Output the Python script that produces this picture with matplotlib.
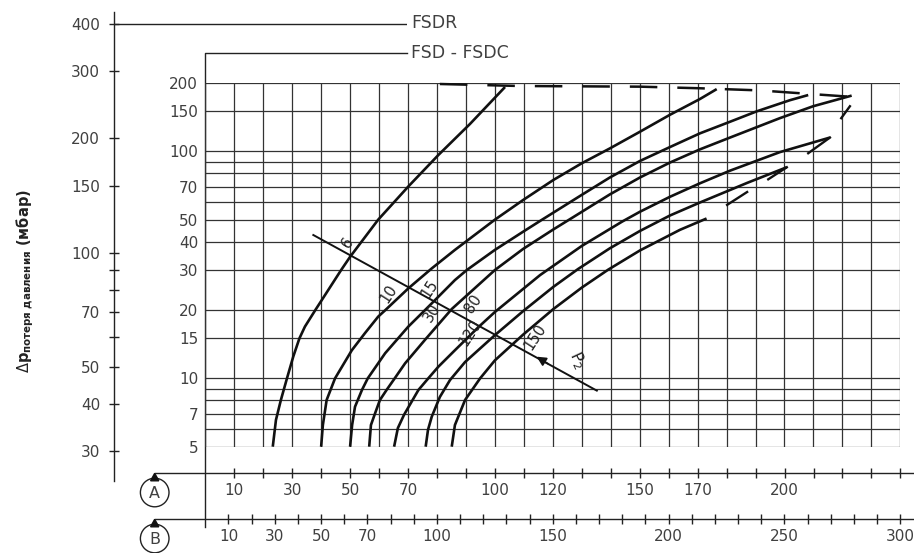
import numpy as np
import matplotlib.pyplot as plt
from matplotlib.patches import Circle, Polygon

plt.rcParams['mathtext.fontset'] = 'dejavusans'

W, H = 914, 553
INK = '#404040'

# inner grid: flow on scale A across, inlet pressure (log) up
grid_x = np.arange(0, 250, 10)
grid_y = [5, 6, 7, 8, 9, 10, 15, 20, 30, 40, 50, 60, 70, 80, 90, 100, 150, 200]
inner_ticks = [5, 7, 10, 15, 20, 30, 40, 50, 70, 100, 150, 200]

# outer pressure-loss scale
dp_ticks = [30, 40, 50, 70, 100, 150, 200, 300, 400]
dp_minor = [60, 80, 90]

# flow scales A and B
a_ticks = np.arange(10, 250, 10)
a_labels = [10, 30, 50, 70, 100, 120, 150, 170, 200]
b_ticks = np.arange(10, 310, 10)
b_labels = [10, 30, 50, 70, 100, 150, 200, 250, 300]

# curves, x on scale A, y on inner scale
c6_x = [23.3, 24.4, 26.1, 28.2, 30.4, 32.5, 34.4, 38.0, 40.2, 46.9, 50.0, 59.7, 70.1, 80.5,
        91.4, 103.5]
c6_y = [5, 6.56, 8.03, 10, 12.5, 15, 16.9, 20, 22.1, 30, 34.3, 50, 70, 96.4,
        132, 192]

c10_x = [40.0, 40.6, 41.9, 44.8, 50.6, 55.1, 59.7, 62.2, 70.1, 78.2, 86.2, 100.0, 109.8, 120.2,
         130.0, 139.7, 150.1, 160.5, 170.8, 176.6]
c10_y = [5, 6.23, 8.03, 10, 13.3, 15.8, 18.7, 20, 24.9, 30.5, 36.8, 50, 61.1, 74.8,
         88.6, 103, 122, 145, 170, 188]

c15_x = [50.0, 50.7, 51.7, 54.1, 56.1, 62.1, 70.1, 75.9, 79.3, 86.2, 90.3, 100.0, 109.8, 116.3,
         130.0, 139.7, 150.1, 160.5, 170.8, 181.2, 190.4, 201.9, 208.2]
c15_y = [5, 6.23, 7.5, 8.89, 10, 12.9, 16.9, 20, 22.1, 27.1, 30, 36.8, 44.3, 50,
         64.3, 76.7, 90.7, 104.5, 120, 135, 150, 168, 177]

c30_x = [56.6, 57.2, 58.6, 60.3, 62.6, 65.4, 69.0, 75.9, 85.1, 100.0, 109.8, 120.2, 126.3,
         139.7, 150.1, 160.5, 170.8, 181.2, 198.4, 209.9, 223.2]
c30_y = [5, 6.23, 7.0, 8.03, 8.89, 10, 11.65, 14.8, 20.2, 30, 37.2, 45.3, 50.6,
         64.6, 76.7, 89.3, 102, 115, 140, 158, 176]

c80_x = [65.2, 66.5, 68.6, 73.6, 77.0, 80.5, 86.2, 94.5, 100.0, 115.6, 130.0, 143.9, 150.1,
         160.5, 170.8, 181.2, 198.4, 215.7]
c80_y = [5, 6.04, 6.9, 8.89, 10, 11.26, 13.3, 16.9, 19.6, 28.5, 38.3, 49.0, 54.2,
         63.1, 72.3, 82.2, 99.2, 115]

c120_x = [76.1, 76.9, 78.2, 81.0, 84.5, 89.7, 100.0, 109.8, 120.2, 128.7, 139.7, 150.1, 160.5,
          170.8, 187.1, 200.8]
c120_y = [5, 5.93, 6.78, 8.28, 9.83, 11.8, 15.5, 19.8, 25.3, 30.3, 37.4, 44.6, 52.2,
          59.5, 72.6, 85.1]

c150_x = [85.1, 86.2, 89.7, 94.9, 100.0, 109.8, 120.2, 130.0, 139.1, 150.1, 163.9, 173.1]
c150_y = [5, 6.23, 8.03, 10, 12.0, 15.6, 20.2, 25.1, 30.1, 36.6, 45.1, 50.6]

curves = [(c6_x, c6_y), (c10_x, c10_y), (c15_x, c15_y), (c30_x, c30_y),
          (c80_x, c80_y), (c120_x, c120_y), (c150_x, c150_y)]

# arrow barbs and loose strokes near the curve ends
b80_x, b80_y = [208.2, 215.7], [98.1, 115]
b120_x, b120_y = [194.4, 200.8], [75.3, 85.1]
s1_x, s1_y = [180.2, 187.1], [58.1, 66.2]
s2_x, s2_y = [219.6, 222.6], [140, 158]

# dashed limit line at the top
dash_x = [81.0, 108.7, 150.1, 170.8, 191.5, 208.8, 223.7]
dash_y = [198, 194, 192.7, 189.6, 185.5, 179, 173.6]

# outlet pressure diagonal
diag_x = [37.3, 135.2]
diag_y = [42.8, 8.83]
arrow_tip = (114.4, 12.46)
arrow_tail = (118.3, 11.6)

lbl_text = ['6', '10', '15', '30', '80', '120', '150']
lbl_x = [49.1, 63.2, 77.6, 78.2, 92.5, 91.4, 113.8]
lbl_y = [39.7, 23.7, 24.9, 19.35, 21.4, 15.8, 15.3]
p2_pos = (128.3, 12.0)


def box(x0, y0, x1, y1):
    # pixel box (top-left origin) -> figure fraction rect
    return [x0 / W, 1 - y1 / H, (x1 - x0) / W, (y1 - y0) / H]


fig = plt.figure(figsize=(W / 100, H / 100), dpi=100)
fig.patch.set_facecolor('white')

# overlay in pixel units for frame decorations
ov = fig.add_axes([0, 0, 1, 1])
ov.set_xlim(0, W)
ov.set_ylim(H, 0)
ov.axis('off')
ov.plot([205.3, 205.3, 407], [527, 52.7, 52.7], color='#222', lw=1.0)
ov.text(411, 23, 'FSDR', fontsize=12.5, color=INK, va='center', ha='left')
ov.text(411, 53, 'FSD - FSDC', fontsize=12.5, color=INK, va='center', ha='left')
for cy, tri_y, letter in [(492.5, 473.3, 'A'), (538.5, 519.3, 'B')]:
    ov.add_patch(Circle((154.7, cy), 14.3, fill=False, ec='#222', lw=1.0))
    ov.add_patch(Polygon([(154.7, tri_y), (150.6, tri_y + 7.5), (158.8, tri_y + 7.5)],
                         closed=True, fc='#111', ec='#111'))
    ov.text(154.7, cy + 1, letter, fontsize=11.5, color=INK, ha='center', va='center')

fig.text(25 / W, 1 - 281 / H,
         r'$\Delta\mathbf{p}_{\mathregular{потеря\ давления}}$ (мбар)',
         rotation=90, ha='center', va='center', fontsize=10.5, fontweight='bold',
         color='#222')

# outer pressure-loss axis
ao = fig.add_axes(box(114, 12, 407, 481))
ao.set_yscale('log')
ao.set_ylim(25.08, 430.2)
ao.set_xlim(0, 1)
for s in ['top', 'right', 'bottom']:
    ao.spines[s].set_visible(False)
ao.spines['left'].set_color('#222')
ao.spines['left'].set_linewidth(1.0)
ao.patch.set_alpha(0)
ao.set_xticks([])
ao.set_yticks(dp_ticks, [str(v) for v in dp_ticks])
ao.set_yticks(dp_minor, minor=True)
ao.yaxis.set_minor_formatter(plt.NullFormatter())
ao.tick_params(axis='y', which='both', direction='inout', length=7, width=1.0,
               color='#222', pad=6.5, labelsize=11, labelcolor=INK)
ao.axhline(400, color='#222', lw=1.0)

# inner grid axis
ax = fig.add_axes(box(205.3, 83, 900.3, 446.7))
ax.set_yscale('log')
ax.set_xlim(0, 240)
ax.set_ylim(5, 200)
ax.patch.set_alpha(0)
for s in ax.spines.values():
    s.set_visible(False)
ax.set_xticks([])
ax.set_yticks(inner_ticks, [str(v) for v in inner_ticks])
ax.yaxis.set_minor_locator(plt.NullLocator())
ax.tick_params(axis='y', length=0, pad=5.2, labelsize=11, labelcolor=INK)
ax.vlines(grid_x, 5, 200, color='#333', lw=0.9)
ax.hlines(grid_y, 0, 240, color='#333', lw=0.9)

for cx, cy in curves:
    ax.plot(cx, cy, color='#111', lw=1.9, solid_capstyle='butt',
            solid_joinstyle='round', clip_on=False)
for bx, by in [(b80_x, b80_y), (b120_x, b120_y), (s1_x, s1_y), (s2_x, s2_y)]:
    ax.plot(bx, by, color='#111', lw=1.7, clip_on=False)
ax.plot(dash_x, dash_y, color='#111', lw=1.8, ls=(0, (11, 8)), clip_on=False)

ax.plot(diag_x, diag_y, color='#111', lw=1.4)
ax.annotate('', xy=arrow_tip, xytext=arrow_tail,
            arrowprops=dict(arrowstyle='-|>', color='#111', lw=1.2,
                            mutation_scale=14, shrinkA=0, shrinkB=0))
for t, lx, ly in zip(lbl_text, lbl_x, lbl_y):
    ax.text(lx, ly, t, rotation=57, ha='center', va='center', fontsize=10.5,
            color='#222')
ax.text(p2_pos[0], p2_pos[1], r'$\mathregular{P}_2$', rotation=-65, ha='center',
        va='center', fontsize=11.5, color='#222')

# flow scales A and B
for rect, lim, ticks, shown in [
        (box(155, 472.3, 914, 473.3), (-17.37, 244.7), a_ticks, a_labels),
        (box(155, 518.3, 914, 519.3), (-21.72, 305.9), b_ticks, b_labels)]:
    axs = fig.add_axes(rect)
    axs.set_xlim(*lim)
    axs.set_ylim(0, 1)
    axs.patch.set_alpha(0)
    for s in ['top', 'right', 'left']:
        axs.spines[s].set_visible(False)
    axs.spines['bottom'].set_color('#222')
    axs.spines['bottom'].set_linewidth(1.0)
    axs.set_yticks([])
    axs.set_xticks(ticks, [str(v) if v in shown else '' for v in ticks])
    axs.tick_params(axis='x', direction='inout', length=7, width=1.0, color='#222',
                    pad=3.5, labelsize=11, labelcolor=INK)

fig.savefig('out.png', dpi=100, facecolor='white')
